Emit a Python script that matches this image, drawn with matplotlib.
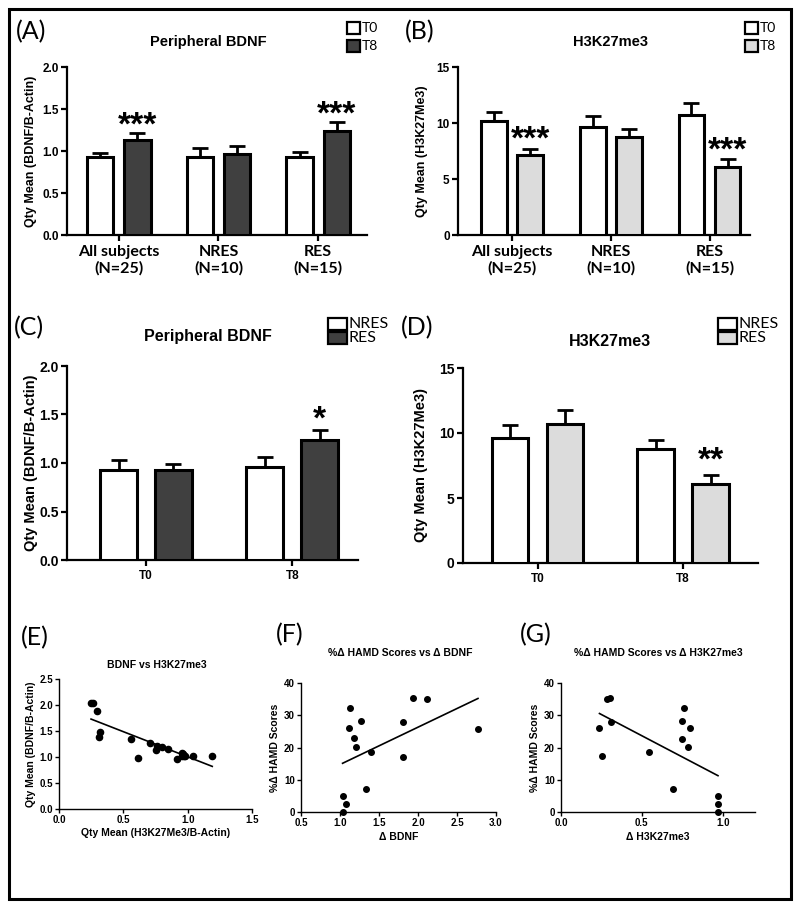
import matplotlib
matplotlib.use("Agg")
import matplotlib.pyplot as plt
import matplotlib.patches as patches
import numpy as np

# ============================================================================
# DATA
# ============================================================================

GROUPS = ["All subjects\n(N=25)", "NRES\n(N=10)", "RES\n(N=15)"]
TIMES = ["T0", "T8"]

# Peripheral BDNF (BDNF/B-Actin), mean and SEM per group
BDNF_T0 = [0.93, 0.93, 0.93]
BDNF_T0_SEM = [0.05, 0.10, 0.06]
BDNF_T8 = [1.13, 0.96, 1.24]
BDNF_T8_SEM = [0.08, 0.10, 0.10]
BDNF_STARS = ["***", "", "***"]

# H3K27me3, mean and SEM per group
H3_T0 = [10.2, 9.65, 10.7]
H3_T0_SEM = [0.80, 0.95, 1.05]
H3_T8 = [7.1, 8.75, 6.1]
H3_T8_SEM = [0.60, 0.70, 0.65]
H3_STARS = ["***", "", "***"]

# responders vs non responders (C, D)
BDNF_RES_STARS = ["", "*"]
H3_RES_STARS = ["", "**"]

# (E) BDNF vs H3K27me3
E_X = [0.249, 0.267, 0.298, 0.319, 0.311, 0.557, 0.612, 0.705, 0.761, 0.756,
       0.803, 0.845, 0.917, 0.953, 0.966, 0.971, 0.953, 0.979, 1.039, 1.191]
E_Y = [2.04, 2.03, 1.88, 1.48, 1.38, 1.35, 0.99, 1.27, 1.22, 1.13,
       1.20, 1.15, 0.96, 1.08, 1.06, 1.02, 1.02, 1.02, 1.01, 1.01]
E_FIT = (-0.966, 1.97)

# (F) %delta HAMD vs delta BDNF
F_X = [1.033, 1.033, 1.081, 1.128, 1.111, 1.183, 1.209, 1.269, 1.397, 1.333,
       1.808, 1.808, 1.936, 2.110, 2.769]
F_Y = [5.1, 0.0, 2.6, 32.3, 25.9, 22.8, 20.2, 28.2, 18.6, 7.2,
       27.8, 17.2, 35.2, 35.0, 25.8]
F_FIT = (11.58, 3.14)

# (G) %delta HAMD vs delta H3K27me3
G_X = [0.238, 0.254, 0.283, 0.300, 0.308, 0.546, 0.692, 0.748, 0.748, 0.761,
       0.783, 0.800, 0.971, 0.971, 0.971]
G_Y = [25.9, 17.3, 35.0, 35.2, 27.9, 18.6, 7.2, 28.2, 22.7, 32.3,
       20.2, 25.9, 5.1, 2.6, 0.0]
G_FIT = (-26.3, 36.8)

# ============================================================================
# STYLE
# ============================================================================

W, H = 800, 910
WHITE = "#ffffff"
DARK = "#404040"
LIGHT = "#dcdcdc"
CAL = ["Lato", "DejaVu Sans"]

plt.rcParams["font.family"] = ["Liberation Sans", "DejaVu Sans"]
plt.rcParams["font.weight"] = "bold"
plt.rcParams["axes.labelweight"] = "bold"
plt.rcParams["axes.linewidth"] = 1.5


def add_axes_px(fig, left, top, right, bottom):
    """axes from pixel box (origin top-left)"""
    return fig.add_axes([left / W, 1 - bottom / H, (right - left) / W, (bottom - top) / H])


def fig_text(fig, x, y, s, **kw):
    return fig.text(x / W, 1 - y / H, s, **kw)


def legend_px(fig, x, y, labels, colors, bw, bh, dy, fontsize):
    for i, (lab, col) in enumerate(zip(labels, colors)):
        yy = y + i * dy
        fig.patches.append(patches.Rectangle(
            (x / W, 1 - (yy + bh) / H), bw / W, bh / H,
            transform=fig.transFigure, facecolor=col, edgecolor="black", linewidth=1.6))
        fig_text(fig, x + bw + 2, yy + bh / 2, lab, family=CAL, fontweight="normal",
                 fontsize=fontsize, va="center", ha="left")


def style_bar_axes(ax, labelsize):
    for s in ["top", "right"]:
        ax.spines[s].set_visible(False)
    ax.spines["left"].set_linewidth(1.6)
    ax.spines["bottom"].set_linewidth(1.6)
    ax.tick_params(axis="y", direction="out", length=4, width=1.6, labelsize=labelsize, pad=2)
    ax.tick_params(axis="x", direction="out", length=4, width=1.6, pad=3)


def bar_panel(ax, means_a, sems_a, means_b, sems_b, color_b, stars, labels,
              width, offset, xlim, ylim, yticks, fmt, star_off, label_kw, ysize=8.5):
    x = np.arange(len(means_a))
    for xs, m, e, c in [(x - offset, means_a, sems_a, WHITE), (x + offset, means_b, sems_b, color_b)]:
        ax.bar(xs, m, width=width, color=c, edgecolor="black", linewidth=2.2, zorder=3)
        ax.errorbar(xs, m, yerr=[np.zeros(len(m)), e], fmt="none", ecolor="black",
                    elinewidth=2.0, capsize=5.5, capthick=2.0, zorder=2)
    for xi, m, e, s in zip(x + offset, means_b, sems_b, stars):
        if s:
            ax.annotate(s, (xi, m + e), xytext=(0, star_off), textcoords="offset points",
                        ha="center", va="center", fontsize=24, fontweight="bold",
                        family="Liberation Sans")
    ax.set_xlim(*xlim)
    ax.set_ylim(*ylim)
    ax.set_yticks(yticks)
    ax.set_yticklabels([fmt.format(t) for t in yticks], fontweight="bold")
    ax.set_xticks(x)
    ax.set_xticklabels(labels, **label_kw)
    style_bar_axes(ax, ysize)


def style_scatter_axes(ax):
    for s in ["top", "right"]:
        ax.spines[s].set_visible(False)
    ax.spines["left"].set_linewidth(1.0)
    ax.spines["bottom"].set_linewidth(1.0)
    ax.tick_params(direction="out", length=3, width=1.0, labelsize=7, pad=1.5)


def scatter_panel(ax, xs, ys, fit, xlim, ylim, xticks, yticks, xfmt, yfmt, size):
    ax.scatter(xs, ys, s=size, color="black", zorder=3, clip_on=False)
    xx = np.array([min(xs), max(xs)])
    ax.plot(xx, fit[0] * xx + fit[1], color="black", linewidth=1.2)
    ax.set_xlim(*xlim)
    ax.set_ylim(*ylim)
    ax.set_xticks(xticks)
    ax.set_xticklabels([xfmt.format(t) for t in xticks], fontweight="bold")
    ax.set_yticks(yticks)
    ax.set_yticklabels([yfmt.format(t) for t in yticks], fontweight="bold")
    style_scatter_axes(ax)


fig = plt.figure(figsize=(W / 100, H / 100), dpi=100)

# outer frame
fig.patches.append(patches.Rectangle((9 / W, 1 - 899 / H), 782 / W, 890 / H,
                                     transform=fig.transFigure, fill=False,
                                     edgecolor="black", linewidth=2.2))

grp_kw = dict(family=CAL, fontsize=11.5, fontweight="bold", linespacing=1.25)
time_kw = dict(fontsize=8.5, fontweight="bold")
PL = dict(family=CAL, fontweight="normal", fontsize=18, va="center")

# ---- (A) ----
ax = add_axes_px(fig, 67, 67, 367, 235)
bar_panel(ax, BDNF_T0, BDNF_T0_SEM, BDNF_T8, BDNF_T8_SEM, DARK, BDNF_STARS, GROUPS,
          0.263, 0.187, (-0.52, 2.49), (0, 2.0), [0, 0.5, 1.0, 1.5, 2.0], "{:.1f}", 5, grp_kw)
ax.set_ylabel("Qty Mean (BDNF/B-Actin)", fontsize=9, labelpad=4)
fig_text(fig, 208, 42, "Peripheral BDNF", ha="center", va="center", fontsize=10.5)
fig_text(fig, 16, 32, "(A)", **PL)
legend_px(fig, 347, 22, TIMES, [WHITE, DARK], 13, 11.5, 18.3, 10)

# ---- (B) ----
ax = add_axes_px(fig, 458, 67, 750, 235)
bar_panel(ax, H3_T0, H3_T0_SEM, H3_T8, H3_T8_SEM, LIGHT, H3_STARS, GROUPS,
          0.26, 0.183, (-0.547, 2.41), (0, 15), [0, 5, 10, 15], "{:d}", 6, grp_kw)
ax.set_ylabel("Qty Mean (H3K27Me3)", fontsize=9, labelpad=6)
fig_text(fig, 610, 42, "H3K27me3", ha="center", va="center", fontsize=10.5)
fig_text(fig, 405, 32, "(B)", **PL)
legend_px(fig, 745, 22, TIMES, [WHITE, LIGHT], 13, 11.5, 18.3, 10)

# ---- (C) ----
ax = add_axes_px(fig, 67, 366, 358, 560)
bar_panel(ax, [BDNF_T0[1], BDNF_T8[1]], [BDNF_T0_SEM[1], BDNF_T8_SEM[1]],
          [BDNF_T0[2], BDNF_T8[2]], [BDNF_T0_SEM[2], BDNF_T8_SEM[2]], DARK,
          BDNF_RES_STARS, TIMES, 0.253, 0.187, (-0.54, 1.45), (0, 2.0),
          [0, 0.5, 1.0, 1.5, 2.0], "{:.1f}", 7, time_kw, ysize=10)
ax.set_ylabel("Qty Mean (BDNF/B-Actin)", fontsize=10.5, labelpad=1)
fig_text(fig, 208, 337, "Peripheral BDNF", ha="center", va="center", fontsize=11.5)
fig_text(fig, 14, 328, "(C)", **PL)
legend_px(fig, 328, 318, ["NRES", "RES"], [WHITE, DARK], 19, 12, 13.5, 11.5)

# ---- (D) ----
ax = add_axes_px(fig, 463, 368, 758, 563)
bar_panel(ax, [H3_T0[1], H3_T8[1]], [H3_T0_SEM[1], H3_T8_SEM[1]],
          [H3_T0[2], H3_T8[2]], [H3_T0_SEM[2], H3_T8_SEM[2]], LIGHT,
          H3_RES_STARS, TIMES, 0.25, 0.189, (-0.512, 1.515), (0, 15),
          [0, 5, 10, 15], "{:d}", 10, time_kw, ysize=10)
ax.set_ylabel("Qty Mean (H3K27Me3)", fontsize=10.5, labelpad=8)
fig_text(fig, 610, 342, "H3K27me3", ha="center", va="center", fontsize=11.5)
fig_text(fig, 401, 328, "(D)", **PL)
legend_px(fig, 718, 318, ["NRES", "RES"], [WHITE, LIGHT], 19, 12, 13.5, 11.5)

# ---- (E) ----
ax = add_axes_px(fig, 59, 679, 252, 809)
scatter_panel(ax, E_X, E_Y, E_FIT, (0, 1.5), (0, 2.5), [0, 0.5, 1.0, 1.5],
              [0, 0.5, 1.0, 1.5, 2.0, 2.5], "{:.1f}", "{:.1f}", 20)
ax.set_xlabel("Qty Mean (H3K27Me3/B-Actin)", fontsize=7.5, labelpad=2)
ax.set_ylabel("Qty Mean (BDNF/B-Actin)", fontsize=7.5, labelpad=2)
fig_text(fig, 157, 665, "BDNF vs H3K27me3", ha="center", va="center", fontsize=7.5)
fig_text(fig, 21, 638, "(E)", **PL)

# ---- (F) ----
ax = add_axes_px(fig, 301, 683, 496, 812)
scatter_panel(ax, F_X, F_Y, F_FIT, (0.5, 3.0), (0, 40), [0.5, 1.0, 1.5, 2.0, 2.5, 3.0],
              [0, 10, 20, 30, 40], "{:.1f}", "{:d}", 16)
ax.set_xlabel("\u0394 BDNF", fontsize=7.5, labelpad=3)
ax.set_ylabel("%\u0394 HAMD Scores", fontsize=7.5, labelpad=3)
fig_text(fig, 400, 653, "%\u0394 HAMD Scores vs \u0394 BDNF", ha="center", va="center", fontsize=7.5)
fig_text(fig, 276, 635, "(F)", **PL)

# ---- (G) ----
ax = add_axes_px(fig, 561, 683, 755, 812)
scatter_panel(ax, G_X, G_Y, G_FIT, (0, 1.2), (0, 40), [0.0, 0.5, 1.0],
              [0, 10, 20, 30, 40], "{:.1f}", "{:d}", 16)
ax.set_xlabel("\u0394 H3K27me3", fontsize=7.5, labelpad=3)
ax.set_ylabel("%\u0394 HAMD Scores", fontsize=7.5, labelpad=3)
fig_text(fig, 658, 653, "%\u0394 HAMD Scores vs \u0394 H3K27me3", ha="center", va="center", fontsize=7.5)
fig_text(fig, 520, 635, "(G)", **PL)

fig.savefig("out.png", dpi=100)
